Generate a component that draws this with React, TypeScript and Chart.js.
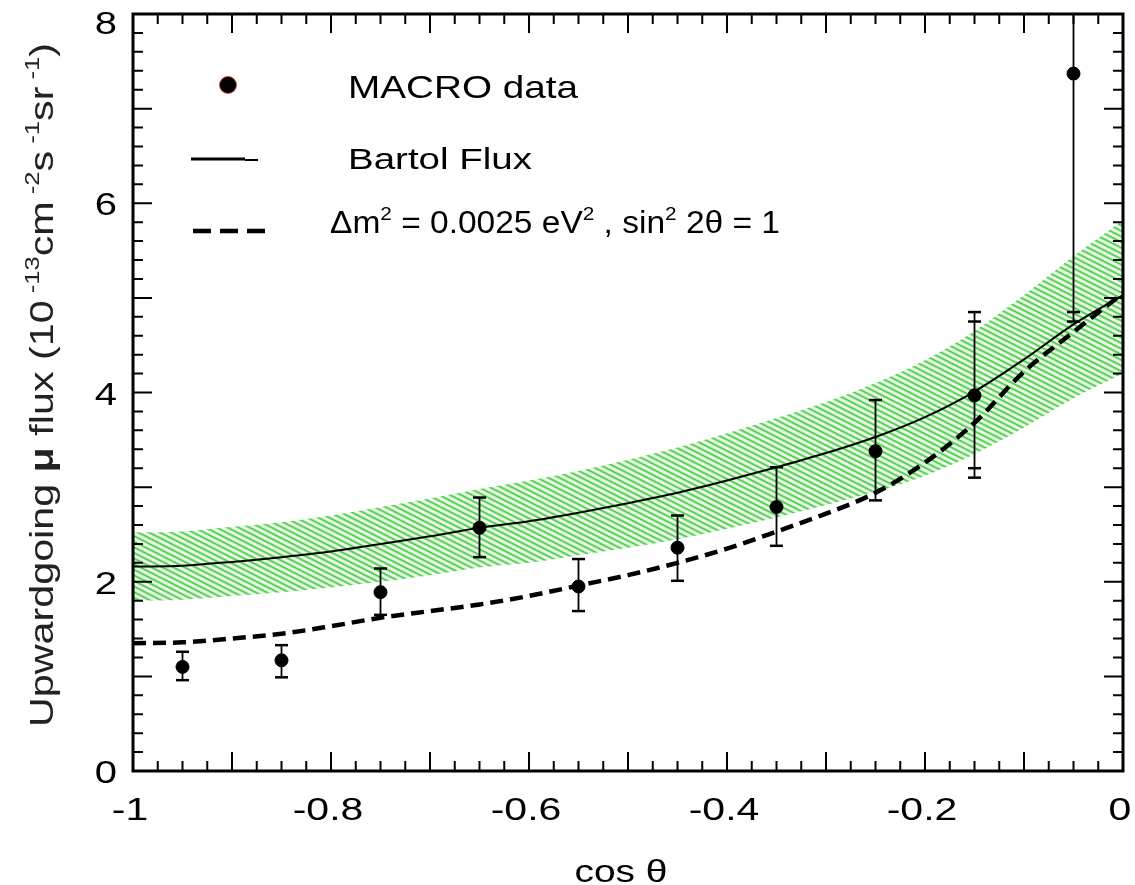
import React, { useEffect, useRef } from "react";
import { Chart, registerables } from "chart.js";

Chart.register(...registerables);

// ---------- data ----------
const curveX = [-1, -0.95, -0.9, -0.85, -0.8, -0.75, -0.7, -0.65, -0.6, -0.55, -0.5, -0.45, -0.4, -0.35, -0.3, -0.25, -0.2, -0.15, -0.1, -0.05, 0];
const bartolFlux = [2.16, 2.17, 2.21, 2.26, 2.32, 2.40, 2.48, 2.57, 2.64, 2.73, 2.83, 2.94, 3.07, 3.21, 3.36, 3.53, 3.74, 4.01, 4.35, 4.72, 5.03];
const oscillatedFlux = [1.35, 1.36, 1.40, 1.45, 1.53, 1.62, 1.69, 1.76, 1.85, 1.96, 2.07, 2.20, 2.35, 2.53, 2.72, 2.94, 3.26, 3.68, 4.22, 4.64, 5.05];
const bartolUpper = [2.52, 2.53, 2.58, 2.63, 2.70, 2.79, 2.88, 2.98, 3.07, 3.17, 3.29, 3.42, 3.57, 3.73, 3.90, 4.10, 4.34, 4.65, 5.03, 5.44, 5.82];
const bartolLower = [1.80, 1.81, 1.85, 1.89, 1.94, 2.00, 2.07, 2.15, 2.20, 2.28, 2.36, 2.45, 2.56, 2.68, 2.81, 2.95, 3.12, 3.35, 3.63, 3.94, 4.20];

const macroX = [-0.95, -0.85, -0.75, -0.65, -0.55, -0.45, -0.35, -0.25, -0.15, -0.05];
const macroY = [1.10, 1.17, 1.89, 2.57, 1.95, 2.36, 2.79, 3.38, 3.97, 7.37];
const macroErrHigh = [1.26, 1.33, 2.14, 2.89, 2.24, 2.70, 3.21, 3.92, 4.85, 9.5];
const macroErrLow = [0.96, 0.99, 1.65, 2.26, 1.69, 2.01, 2.38, 2.86, 3.10, 4.75];
const macroInnerHigh: (number | null)[] = [null, null, null, null, null, null, null, null, 4.75, null];
const macroInnerLow: (number | null)[] = [null, null, null, null, null, null, null, null, 3.20, 4.85];

const xTickValues = [-1, -0.8, -0.6, -0.4, -0.2, 0];
const xTickLabels = ["-1", "-0.8", "-0.6", "-0.4", "-0.2", "0"];
const yTickValues = [0, 2, 4, 6, 8];
const yTickLabels = ["0", "2", "4", "6", "8"];

const legendLabels = ["MACRO data", "Bartol Flux", "Δm² = 0.0025 eV² , sin² 2θ = 1"];

const FONT = "'Liberation Sans', Arial, Helvetica, sans-serif";

type Seg = { t: string; sup?: boolean; bold?: boolean };

function segFont(s: Seg, size: number) {
  const sz = s.sup ? size * 0.62 : size;
  return `${s.bold ? "bold " : ""}${sz}px ${FONT}`;
}
function measureRich(ctx: CanvasRenderingContext2D, segs: Seg[], size: number) {
  let w = 0;
  for (const s of segs) {
    ctx.font = segFont(s, size);
    w += ctx.measureText(s.t).width;
  }
  return w;
}
function drawRich(
  ctx: CanvasRenderingContext2D,
  segs: Seg[],
  size: number,
  x: number,
  y: number,
  opts: { targetW?: number; sx?: number; sy?: number; align?: string; rotate?: number; color?: string } = {}
) {
  const natural = measureRich(ctx, segs, size);
  const sx = opts.targetW ? opts.targetW / natural : opts.sx ?? 1;
  const sy = opts.sy ?? 1;
  ctx.save();
  ctx.translate(x, y);
  if (opts.rotate) ctx.rotate(opts.rotate);
  ctx.scale(sx, sy);
  let cx = opts.align === "center" ? -natural / 2 : opts.align === "right" ? -natural : 0;
  ctx.textBaseline = "alphabetic";
  ctx.textAlign = "left";
  ctx.fillStyle = opts.color ?? "#000";
  for (const s of segs) {
    ctx.font = segFont(s, size);
    ctx.fillText(s.t, cx, s.sup ? -size * 0.42 : 0);
    cx += ctx.measureText(s.t).width;
  }
  ctx.restore();
}

function makeHatch(ctx: CanvasRenderingContext2D): CanvasPattern | string {
  const tile = document.createElement("canvas");
  tile.width = 16;
  tile.height = 5;
  const t = tile.getContext("2d")!;
  t.fillStyle = "#ecfbe8";
  t.fillRect(0, 0, 16, 5);
  t.fillStyle = "#42c742";
  t.fillRect(0, 0.8, 16, 1.8);
  const p = ctx.createPattern(tile, "repeat");
  if (!p) return "#9be39b";
  p.setTransform(new DOMMatrix().rotate(27));
  return p;
}

const decorPlugin = {
  id: "decor",
  afterDatasetsDraw(chart: any) {
    const ctx: CanvasRenderingContext2D = chart.ctx;
    const xs = chart.scales.x;
    const ys = chart.scales.y;
    const area = chart.chartArea;
    // error bars
    ctx.save();
    ctx.beginPath();
    ctx.rect(area.left, area.top, area.right - area.left, area.bottom - area.top);
    ctx.clip();
    ctx.strokeStyle = "#000";
    const cap = (px: number, py: number) => {
      ctx.lineWidth = 2.5;
      ctx.beginPath();
      ctx.moveTo(px - 6.5, py);
      ctx.lineTo(px + 6.5, py);
      ctx.stroke();
    };
    macroX.forEach((xv, i) => {
      const px = xs.getPixelForValue(xv);
      const hi = ys.getPixelForValue(macroErrHigh[i]);
      const lo = ys.getPixelForValue(macroErrLow[i]);
      ctx.lineWidth = 1.8;
      ctx.beginPath();
      ctx.moveTo(px, hi);
      ctx.lineTo(px, lo);
      ctx.stroke();
      cap(px, hi);
      cap(px, lo);
      const ih = macroInnerHigh[i];
      const il = macroInnerLow[i];
      if (ih !== null) cap(px, ys.getPixelForValue(ih));
      if (il !== null) cap(px, ys.getPixelForValue(il));
    });
    ctx.restore();
  },
  afterDraw(chart: any) {
    const ctx: CanvasRenderingContext2D = chart.ctx;
    const xs = chart.scales.x;
    const ys = chart.scales.y;
    const a = chart.chartArea;
    ctx.save();
    ctx.strokeStyle = "#000";
    // ticks
    ctx.lineWidth = 2;
    for (let i = 1; i < 40; i++) {
      const v = -1 + i * 0.025;
      const px = xs.getPixelForValue(v);
      const len = i % 4 === 0 ? 19 : 10;
      ctx.beginPath();
      ctx.moveTo(px, a.bottom);
      ctx.lineTo(px, a.bottom - len);
      ctx.moveTo(px, a.top);
      ctx.lineTo(px, a.top + len);
      ctx.stroke();
    }
    for (let i = 1; i < 40; i++) {
      const v = i * 0.2;
      const py = ys.getPixelForValue(v);
      const len = i % 5 === 0 ? 19 : 10;
      ctx.beginPath();
      ctx.moveTo(a.left, py);
      ctx.lineTo(a.left + len, py);
      ctx.moveTo(a.right, py);
      ctx.lineTo(a.right - len, py);
      ctx.stroke();
    }
    // frame
    ctx.lineWidth = 3;
    ctx.strokeRect(a.left, a.top, a.right - a.left, a.bottom - a.top);
    ctx.restore();

    // tick labels
    xTickValues.forEach((v, i) => {
      drawRich(ctx, [{ t: xTickLabels[i] }], 32, xs.getPixelForValue(v) - 3, a.bottom + 49, { sx: 1.28, align: "center" });
    });
    yTickValues.forEach((v, i) => {
      const py = Math.max(ys.getPixelForValue(v) + 12, 34);
      drawRich(ctx, [{ t: yTickLabels[i] }], 32, a.left - 16, py, { sx: 1.25, align: "right" });
    });

    // axis titles
    drawRich(ctx, [{ t: "cos θ" }], 32, 621, 882, { targetW: 93, align: "center" });
    drawRich(
      ctx,
      [
        { t: "Upwardgoing " },
        { t: "μ", bold: true },
        { t: " flux (10" },
        { t: " -13", sup: true },
        { t: "cm" },
        { t: " -2", sup: true },
        { t: "s" },
        { t: " -1", sup: true },
        { t: "sr" },
        { t: " -1", sup: true },
        { t: ")" },
      ],
      28,
      53,
      385,
      { targetW: 684, sy: 1.2, align: "center", rotate: -Math.PI / 2, color: "#222" }
    );

    // legend
    ctx.save();
    ctx.fillStyle = "#000";
    ctx.beginPath();
    ctx.arc(228, 85, 8.5, 0, Math.PI * 2);
    ctx.fill();
    ctx.strokeStyle = "rgba(235,60,60,0.8)";
    ctx.lineWidth = 1;
    ctx.stroke();
    ctx.strokeStyle = "#000";
    ctx.lineWidth = 3;
    ctx.beginPath();
    ctx.moveTo(191, 159);
    ctx.lineTo(245, 159);
    ctx.stroke();
    ctx.lineWidth = 2;
    ctx.beginPath();
    ctx.moveTo(245, 160);
    ctx.lineTo(258, 160);
    ctx.stroke();
    ctx.lineWidth = 4.5;
    ctx.setLineDash([18, 9]);
    ctx.beginPath();
    ctx.moveTo(193, 231);
    ctx.lineTo(266, 231);
    ctx.stroke();
    ctx.restore();

    drawRich(ctx, [{ t: legendLabels[0] }], 32, 348, 98, { targetW: 230 });
    drawRich(ctx, [{ t: legendLabels[1] }], 30, 348, 169, { targetW: 184 });
    drawRich(
      ctx,
      [
        { t: "Δm" },
        { t: "2", sup: true },
        { t: " = 0.0025 eV" },
        { t: "2", sup: true },
        { t: " , sin" },
        { t: "2", sup: true },
        { t: " 2θ = 1" },
      ],
      31,
      330,
      233,
      { targetW: 450 }
    );
  },
};

export default function App() {
  const ref = useRef<HTMLCanvasElement | null>(null);
  useEffect(() => {
    const canvas = ref.current;
    if (!canvas) return;
    const ctx = canvas.getContext("2d")!;
    const hatch = makeHatch(ctx);
    const pts = (ys: number[]) => curveX.map((x, i) => ({ x, y: ys[i] }));
    const chart = new Chart(canvas, {
      type: "line",
      data: {
        datasets: [
          {
            label: legendLabels[0],
            type: "scatter",
            data: macroX.map((x, i) => ({ x, y: macroY[i] })),
            pointRadius: 6.5,
            pointBackgroundColor: "#000",
            pointBorderColor: "#000",
            showLine: false,
            order: 0,
          } as any,
          {
            label: legendLabels[1],
            data: pts(bartolFlux),
            borderColor: "#000",
            borderWidth: 2,
            pointRadius: 0,
            cubicInterpolationMode: "monotone",
            fill: false,
            order: 1,
          },
          {
            label: legendLabels[2],
            data: pts(oscillatedFlux),
            borderColor: "#000",
            borderWidth: 4.5,
            borderDash: [13, 7],
            pointRadius: 0,
            cubicInterpolationMode: "monotone",
            fill: false,
            order: 2,
          },
          {
            label: "Bartol upper",
            data: pts(bartolUpper),
            borderColor: "rgba(0,0,0,0)",
            borderWidth: 1,
            pointRadius: 0,
            cubicInterpolationMode: "monotone",
            backgroundColor: hatch as any,
            fill: "+1",
            order: 5,
          },
          {
            label: "Bartol lower",
            data: pts(bartolLower),
            borderColor: "rgba(0,0,0,0)",
            borderWidth: 1,
            pointRadius: 0,
            cubicInterpolationMode: "monotone",
            fill: false,
            order: 6,
          },
        ],
      },
      options: {
        responsive: false,
        animation: false,
        devicePixelRatio: 1,
        events: [],
        layout: { padding: { left: 133, right: 12, top: 14, bottom: 114 } },
        scales: {
          x: { type: "linear", min: -1, max: 0, display: false },
          y: { type: "linear", min: 0, max: 8, display: false },
        },
        plugins: { legend: { display: false }, tooltip: { enabled: false } },
      },
      plugins: [decorPlugin],
    });
    return () => chart.destroy();
  }, []);
  return (
    <div style={{ position: "fixed", left: 0, top: 0, width: 1135, height: 885, background: "#fff" }}>
      <canvas ref={ref} width={1135} height={885} style={{ display: "block", width: 1135, height: 885 }} />
    </div>
  );
}
